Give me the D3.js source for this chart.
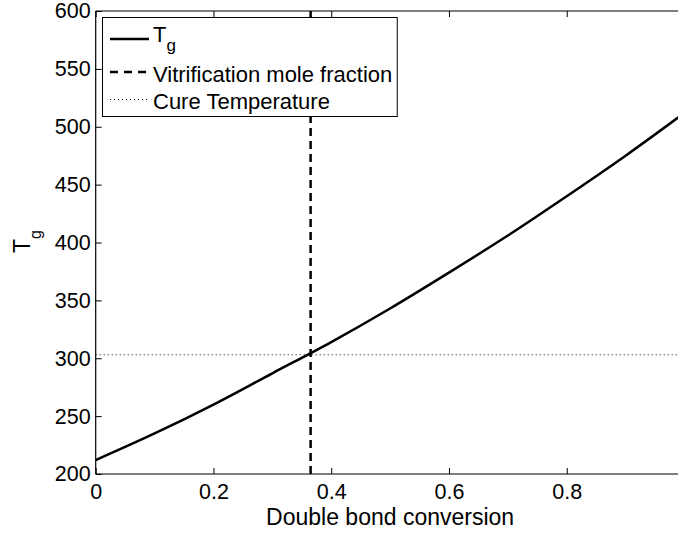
<!DOCTYPE html>
<html>
<head>
<meta charset="utf-8">
<script src="https://cdn.jsdelivr.net/npm/d3@7"></script>
<style>
  html, body { margin: 0; padding: 0; background: #fff; }
  svg { display: block; font-family: "Liberation Sans", Arial, Helvetica, sans-serif; }
</style>
</head>
<body>
<svg id="chart" width="678" height="533"></svg>
<script>
// Glass transition temperature vs. double bond conversion
const conversion = [0, 0.1, 0.2, 0.3, 0.4, 0.5, 0.6, 0.7, 0.8, 0.9, 1.0];
const tg         = [212, 235, 260, 287, 314, 343, 374, 406, 440, 475, 512];
const vitrificationFraction = 0.365;
const cureTemperature = 303;
const xTicks = [0, 0.2, 0.4, 0.6, 0.8];
const yTicks = [200, 250, 300, 350, 400, 450, 500, 550, 600];
const legendLabels = ["T", "Vitrification mole fraction", "Cure Temperature"];

const svg = d3.select("#chart");
const plotLeft = 95.7, plotRight = 684.5, plotTop = 11, plotBottom = 474;

const x = d3.scaleLinear().domain([0, 1]).range([plotLeft, plotRight]);
const y = d3.scaleLinear().domain([200, 600]).range([plotBottom, plotTop]);

svg.append("defs").append("clipPath").attr("id", "plotclip")
  .append("rect").attr("x", plotLeft).attr("y", plotTop)
  .attr("width", plotRight - plotLeft).attr("height", plotBottom - plotTop);

const plot = svg.append("g").attr("clip-path", "url(#plotclip)");

// Cure temperature (horizontal dotted)
plot.append("line")
  .attr("x1", x(0)).attr("x2", x(1))
  .attr("y1", y(cureTemperature)).attr("y2", y(cureTemperature))
  .attr("stroke", "#000").attr("stroke-width", 1).attr("stroke-dasharray", "1,3");

// Vitrification mole fraction (vertical dashed)
plot.append("line")
  .attr("x1", x(vitrificationFraction)).attr("x2", x(vitrificationFraction))
  .attr("y1", y(600)).attr("y2", y(200))
  .attr("stroke", "#000").attr("stroke-width", 2.5).attr("stroke-dasharray", "8,5");

// Tg curve
const pts = conversion.map((c, i) => [c, tg[i]]);
plot.append("path")
  .datum(pts)
  .attr("fill", "none").attr("stroke", "#000").attr("stroke-width", 2.5)
  .attr("d", d3.line().x(d => x(d[0])).y(d => y(d[1])).curve(d3.curveMonotoneX));

// Axes (ticks pointing inward)
const fs = 21.5;
const xAxis = svg.append("g").attr("transform", `translate(0,${plotBottom})`)
  .call(d3.axisBottom(x).tickValues(xTicks).tickFormat(d3.format("~g"))
    .tickSizeInner(-6).tickSizeOuter(0).tickPadding(10));
xAxis.select(".domain").remove();
xAxis.selectAll("text").attr("font-size", fs).attr("fill", "#000");
xAxis.selectAll("line").attr("stroke", "#000");

const xTop = svg.append("g").attr("transform", `translate(0,${plotTop})`)
  .call(d3.axisTop(x).tickValues(xTicks).tickFormat("").tickSizeInner(-6).tickSizeOuter(0));
xTop.select(".domain").remove();
xTop.selectAll("line").attr("stroke", "#000");

const yAxis = svg.append("g").attr("transform", `translate(${plotLeft},0)`)
  .call(d3.axisLeft(y).tickValues(yTicks).tickFormat(d3.format("d"))
    .tickSizeInner(-6).tickSizeOuter(0).tickPadding(5));
yAxis.select(".domain").remove();
yAxis.selectAll("text").attr("font-size", fs).attr("fill", "#000");
yAxis.selectAll("line").attr("stroke", "#000");

// Frame
svg.append("line").attr("x1", plotLeft).attr("x2", plotRight).attr("y1", plotBottom).attr("y2", plotBottom)
  .attr("stroke", "#000").attr("stroke-width", 1.2);
svg.append("line").attr("x1", plotLeft).attr("x2", plotRight).attr("y1", plotTop).attr("y2", plotTop)
  .attr("stroke", "#000").attr("stroke-width", 1.2);
svg.append("line").attr("x1", plotLeft).attr("x2", plotLeft).attr("y1", plotTop).attr("y2", plotBottom)
  .attr("stroke", "#000").attr("stroke-width", 1.2);

// Axis titles
svg.append("text").attr("x", x(0.5)).attr("y", 525).attr("text-anchor", "middle")
  .attr("font-size", 23).attr("fill", "#000").text("Double bond conversion");

const yl = svg.append("text").attr("transform", "translate(30,253) rotate(-90)")
  .attr("font-size", 23).attr("fill", "#000");
yl.append("tspan").text("T");
yl.append("tspan").attr("font-size", 16).attr("dy", 11).text("g");

// Legend
const legFs = 22;
const lg = svg.append("g");
const styles = [
  { dash: null, w: 2.5 },
  { dash: "8,6", w: 2.5 },
  { dash: "1,3", w: 1 }
];
const sampleY = [39, 72, 99.5];
const textY = [41.7, 81.5, 109];
const box = lg.append("rect").attr("x", 102.5).attr("y", 17.5).attr("height", 99)
  .attr("fill", "#fff").attr("stroke", "#000").attr("stroke-width", 1);
styles.forEach((s, i) => {
  const l = lg.append("line").attr("x1", 110).attr("x2", 149)
    .attr("y1", sampleY[i]).attr("y2", sampleY[i])
    .attr("stroke", "#000").attr("stroke-width", s.w);
  if (s.dash) l.attr("stroke-dasharray", s.dash);
});
const t0 = lg.append("text").attr("x", 153).attr("y", textY[0]).attr("font-size", legFs).attr("fill", "#000");
t0.append("tspan").text(legendLabels[0]);
t0.append("tspan").attr("font-size", 17).attr("dy", 9.5).text("g");
const t1 = lg.append("text").attr("x", 153).attr("y", textY[1]).attr("font-size", legFs).attr("fill", "#000").text(legendLabels[1]);
lg.append("text").attr("x", 153).attr("y", textY[2]).attr("font-size", legFs).attr("fill", "#000").text(legendLabels[2]);
box.attr("width", 153 + t1.node().getComputedTextLength() + 5 - 102.5);
</script>
</body>
</html>
